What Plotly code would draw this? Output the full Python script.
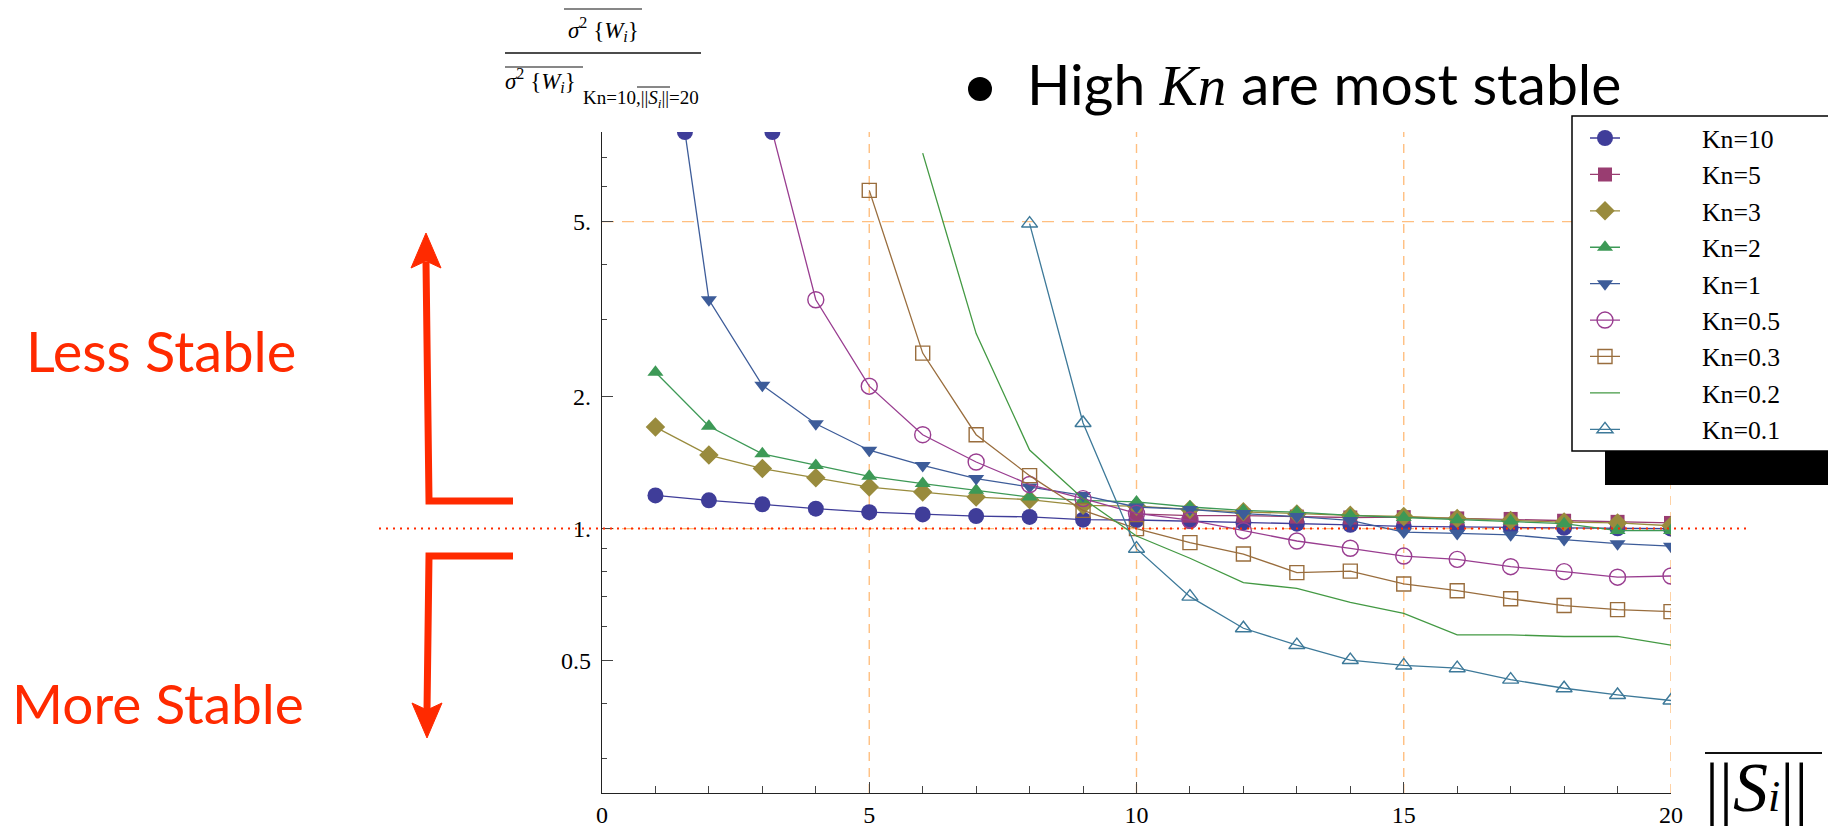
import numpy as np
import plotly.graph_objects as go

# ---------------- data ----------------
S = list(range(1, 21))  # mean ||S_i||

kn_names = ["Kn=10", "Kn=5", "Kn=3", "Kn=2", "Kn=1", "Kn=0.5", "Kn=0.3", "Kn=0.2", "Kn=0.1"]

kn10 = [1.19, 1.16, 1.136, 1.11, 1.09, 1.077, 1.068, 1.063, 1.048, 1.046,
        1.04, 1.033, 1.026, 1.02, 1.012, 1.008, 1.006, 1.004, 1.002, 1.0]
kn5 = [None] * 9 + [1.08, 1.07, 1.07, 1.065, 1.06, 1.062, 1.055, 1.052, 1.042, 1.036, 1.03]
kn3 = [1.703, 1.47, 1.37, 1.306, 1.243, 1.211, 1.18, 1.164, 1.13, 1.125,
       1.106, 1.092, 1.08, 1.072, 1.066, 1.054, 1.044, 1.035, 1.03, 1.015]
kn2 = [2.27, 1.71, 1.48, 1.393, 1.315, 1.266, 1.222, 1.18, 1.16, 1.15,
       1.12, 1.10, 1.09, 1.072, 1.06, 1.048, 1.04, 1.026, 0.99, 0.99]
kn1 = [23.6, 3.32, 2.12, 1.733, 1.508, 1.393, 1.30, 1.243, 1.19, 1.12,
       1.106, 1.082, 1.065, 1.044, 0.982, 0.975, 0.968, 0.944, 0.924, 0.912]
kn05 = [None, None, 9.8, 3.32, 2.11, 1.636, 1.418, 1.26, 1.17, 1.083,
        1.046, 0.989, 0.937, 0.902, 0.866, 0.851, 0.819, 0.798, 0.775, 0.78]
kn03 = [None] * 4 + [5.89, 2.51, 1.636, 1.32, 1.10, 1.0, 0.929, 0.875, 0.794, 0.80,
                     0.748, 0.722, 0.692, 0.668, 0.654, 0.647]
kn02 = [None] * 5 + [7.16, 2.78, 1.51, 1.17, 0.962, 0.856, 0.753, 0.731, 0.679, 0.641,
                     0.573, 0.573, 0.568, 0.568, 0.543]
kn01 = [None] * 7 + [4.95, 1.74, 0.90, 0.70, 0.593, 0.543, 0.502, 0.488, 0.481, 0.453,
                     0.433, 0.418, 0.406]

series = [kn10, kn5, kn3, kn2, kn1, kn05, kn03, kn02, kn01]

x_ticks = [0, 5, 10, 15, 20]
x_minor = [v for v in range(1, 20) if v % 5]
y_ticks = [0.5, 1, 2, 5]
y_ticktext = ["0.5", "1.", "2.", "5."]
y_minor = [0.3, 0.4, 0.6, 0.7, 0.8, 0.9, 3, 4, 6, 7, 8]
YMIN, YMAX = 0.25, 8.0
XMIN, XMAX = 0, 20

# ---------------- styles ----------------
colors = ["#3F3D99", "#993D71", "#998B3D", "#3D9956", "#3D5C99",
          "#993D90", "#996D3D", "#439943", "#3D7999"]
symbols = ["circle", "square", "diamond", "triangle-up", "triangle-down",
           "circle-open", "square-open", None, "triangle-up-open"]
sizes = [16, 14, 15, 14, 14, 16, 14, 0, 14]

W, H = 1828, 830
X0, X1, Y0, Y1 = 602, 1671, 132, 793


def fx(p):
    return (p - X0) / (X1 - X0)


def fy(p):
    return (Y1 - p) / (Y1 - Y0)


def fyv(v):
    return (np.log10(v) - np.log10(YMIN)) / (np.log10(YMAX) - np.log10(YMIN))


LEG_PAD = "\u2003\u2003\u2003"  # gap between legend symbol and label

fig = go.Figure()

for name, vals, col, sym, sz in zip(kn_names, series, colors, symbols, sizes):
    if sym is None:
        fig.add_trace(go.Scatter(x=S, y=vals, mode="lines", name=LEG_PAD + name,
                                 line=dict(color=col, width=1.3)))
    else:
        is_open = sym.endswith("open")
        fig.add_trace(go.Scatter(
            x=S, y=vals, mode="lines+markers", name=LEG_PAD + name,
            line=dict(color=col, width=1.3),
            marker=dict(symbol=sym, size=sz, color=col,
                        line=dict(color=col, width=1.4 if is_open else 0))))

# points where curves leave the top of the plot range (drawn as clipped markers)
cx, cy = [], []
for vals in series:
    for i in range(len(vals) - 1):
        a, b = vals[i], vals[i + 1]
        if a is not None and b is not None and a > YMAX >= b:
            t = (np.log10(YMAX) - np.log10(a)) / (np.log10(b) - np.log10(a))
            cx.append(S[i] + t)
            cy.append(YMAX)
fig.add_trace(go.Scatter(x=cx, y=cy, mode="markers", showlegend=False,
                         marker=dict(symbol="circle", size=16, color=colors[0])))

RED = "#FF2A00"
ORANGE = "#FFBF80"
shapes = []
# orange dashed grid lines
for xv in [5, 10, 15, 20]:
    shapes.append(dict(type="line", xref="x", yref="paper", x0=xv, x1=xv, y0=0, y1=1,
                       line=dict(color=ORANGE, width=1.4, dash="9px,7px"), layer="below"))
shapes.append(dict(type="line", xref="paper", yref="paper", x0=0, x1=fx(1700),
                   y0=fyv(5), y1=fyv(5),
                   line=dict(color=ORANGE, width=1.4, dash="12px,8px"), layer="below"))
shapes.append(dict(type="line", xref="paper", yref="paper", x0=0, x1=1,
                   y0=fyv(1), y1=fyv(1),
                   line=dict(color=ORANGE, width=1.4, dash="12px,8px"), layer="below"))
# red dotted reference line
shapes.append(dict(type="line", xref="paper", yref="paper", x0=fx(379), x1=fx(1751),
                   y0=fyv(1), y1=fyv(1),
                   line=dict(color=RED, width=2, dash="2px,5px"), layer="above"))
# legend frame + black bar
shapes.append(dict(type="rect", xref="paper", yref="paper", x0=fx(1572), x1=fx(1845),
                   y0=fy(451), y1=fy(116), fillcolor="white",
                   line=dict(color="black", width=1.5), layer="above"))
shapes.append(dict(type="rect", xref="paper", yref="paper", x0=fx(1605), x1=fx(1845),
                   y0=fy(485), y1=fy(451), fillcolor="black",
                   line=dict(width=0), layer="above"))


def path(points, close=False):
    s = "M " + " L ".join(f"{fx(a):.5f},{fy(b):.5f}" for a, b in points)
    return s + (" Z" if close else "")


# arrows
shapes.append(dict(type="path", xref="paper", yref="paper",
                   path=path([(513, 501), (429, 501), (426, 262)]),
                   line=dict(color=RED, width=7), layer="above"))
shapes.append(dict(type="path", xref="paper", yref="paper",
                   path=path([(426, 233), (411, 268), (426, 261), (441, 268)], True),
                   fillcolor=RED, line=dict(color=RED, width=1), layer="above"))
shapes.append(dict(type="path", xref="paper", yref="paper",
                   path=path([(513, 556), (429, 556), (427, 710)]),
                   line=dict(color=RED, width=7), layer="above"))
shapes.append(dict(type="path", xref="paper", yref="paper",
                   path=path([(427, 738), (412, 703), (427, 710), (442, 703)], True),
                   fillcolor=RED, line=dict(color=RED, width=1), layer="above"))

# fraction bars / overlines of the axis labels
for (xa, xb, yy, lw) in [(564, 642, 9, 1.2), (505, 701, 53, 1.4), (505, 583, 67, 1.2),
                         (637, 670, 87, 1.0), (1705, 1822, 753, 2.2)]:
    shapes.append(dict(type="line", xref="paper", yref="paper", x0=fx(xa), x1=fx(xb),
                       y0=fy(yy), y1=fy(yy), line=dict(color="#111", width=lw), layer="above"))
# bullet
shapes.append(dict(type="circle", xref="paper", yref="paper", x0=fx(968), x1=fx(992),
                   y0=fy(101), y1=fy(77), fillcolor="black", line=dict(width=0),
                   layer="above"))

SERIF = "Liberation Serif"
SANS = "Lato"


def ann(text, xp, yp, size, family, color="black", xanchor="left", yanchor="middle"):
    return dict(text=text, xref="paper", yref="paper", x=fx(xp), y=fy(yp),
                xanchor=xanchor, yanchor=yanchor, showarrow=False,
                font=dict(size=size, family=family, color=color))


annotations = [
    ann("<i>σ</i><sup>2</sup> {<i>W</i><sub><i>i</i></sub>}", 603, 29, 23, SERIF, xanchor="center"),
    ann("<i>σ</i><sup>2</sup> {<i>W</i><sub><i>i</i></sub>}", 503, 81, 23, SERIF),
    ann("Kn=10,||<i>S</i><sub><i>i</i></sub>||=20", 581, 99, 19, SERIF),
    ann("High <span style='font-family:Liberation Serif'><i>Kn</i></span> are most stable",
        1025, 83, 57, SANS),
    ann("Less Stable", 24, 350, 56, SANS, color=RED),
    ann("More Stable", 10, 703, 55, SANS, color=RED),
    ann("||<i>S</i><span style='font-size:44px'><i>i</i></span>||", 1703, 787, 70, SERIF),
]

axis_common = dict(showline=True, linecolor="#222", linewidth=1.3, mirror=False,
                   ticks="inside", ticklen=11, tickwidth=1, tickcolor="#444",
                   showgrid=False, zeroline=False,
                   tickfont=dict(family=SERIF, size=24, color="black"))

fig.update_layout(
    width=W, height=H,
    margin=dict(l=X0, r=W - X1, t=Y0, b=H - Y1, autoexpand=False),
    paper_bgcolor="white", plot_bgcolor="white",
    xaxis=dict(range=[XMIN, XMAX], tickmode="array", tickvals=x_ticks,
               ticktext=[str(v) for v in x_ticks], ticklabelstandoff=0,
               minor=dict(tickmode="array", tickvals=x_minor, ticks="inside", ticklen=7,
                          tickwidth=1, tickcolor="#444", showgrid=False),
               **axis_common),
    yaxis=dict(type="log", range=[np.log10(YMIN), np.log10(YMAX)], tickmode="array",
               tickvals=y_ticks, ticktext=y_ticktext, ticklabelstandoff=5,
               minor=dict(tickmode="array", tickvals=y_minor, ticks="inside", ticklen=5,
                          tickwidth=1, tickcolor="#444", showgrid=False),
               **axis_common),
    legend=dict(x=fx(1585), y=fy(114.8), xanchor="left", yanchor="top",
                bgcolor="rgba(0,0,0,0)", borderwidth=0, itemwidth=30,
                font=dict(family=SERIF, size=25.7, color="black"),
                tracegroupgap=0),
    shapes=shapes,
    annotations=annotations,
    showlegend=True,
)

fig.write_html("out.html")
